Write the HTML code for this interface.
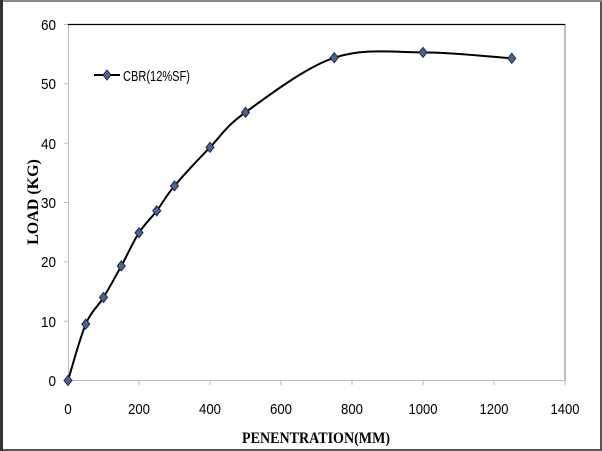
<!DOCTYPE html>
<html><head><style>
html,body{margin:0;padding:0;background:#fff;}
svg{display:block;}
</style></head><body>
<svg width="602" height="451" xmlns="http://www.w3.org/2000/svg">
<rect x="0" y="0" width="602" height="451" fill="#fff"/>
<rect x="1" y="1" width="600" height="449" fill="none" stroke="#555" stroke-width="2"/>
<rect x="0" y="0" width="602" height="2" fill="#888"/>
<rect x="0" y="0" width="3" height="451" fill="#333"/>
<line x1="68.5" y1="24" x2="68.5" y2="380" stroke="#bbb" stroke-width="1"/>
<line x1="565" y1="24" x2="565" y2="380" stroke="#aaa" stroke-width="1.5"/>
<line x1="68" y1="24.5" x2="565" y2="24.5" stroke="#000" stroke-width="1.2"/>
<line x1="68" y1="380.5" x2="565" y2="380.5" stroke="#bbb" stroke-width="1"/>
<g stroke="#bbb" stroke-width="1">
<line x1="64" y1="24.5" x2="68" y2="24.5"/><line x1="64" y1="83.8" x2="68" y2="83.8"/>
<line x1="64" y1="143.2" x2="68" y2="143.2"/><line x1="64" y1="202.5" x2="68" y2="202.5"/>
<line x1="64" y1="261.8" x2="68" y2="261.8"/><line x1="64" y1="321.2" x2="68" y2="321.2"/>
<line x1="64" y1="380.5" x2="68" y2="380.5"/>
<line x1="139" y1="380" x2="139" y2="385"/><line x1="210" y1="380" x2="210" y2="385"/>
<line x1="281" y1="380" x2="281" y2="385"/><line x1="352" y1="380" x2="352" y2="385"/>
<line x1="423" y1="380" x2="423" y2="385"/><line x1="494" y1="380" x2="494" y2="385"/>
<line x1="565" y1="380" x2="565" y2="385"/>
</g>
<g font-family="Liberation Sans, sans-serif" font-size="15" fill="#000" text-anchor="end" lengthAdjust="spacingAndGlyphs">
<text x="56" y="30" textLength="15" lengthAdjust="spacingAndGlyphs">60</text>
<text x="56" y="89" textLength="15" lengthAdjust="spacingAndGlyphs">50</text>
<text x="56" y="149" textLength="15" lengthAdjust="spacingAndGlyphs">40</text>
<text x="56" y="208" textLength="15" lengthAdjust="spacingAndGlyphs">30</text>
<text x="56" y="267" textLength="15" lengthAdjust="spacingAndGlyphs">20</text>
<text x="56" y="327" textLength="15" lengthAdjust="spacingAndGlyphs">10</text>
<text x="56" y="386" textLength="7.5" lengthAdjust="spacingAndGlyphs">0</text>
</g>
<g font-family="Liberation Sans, sans-serif" font-size="15" fill="#000" text-anchor="middle">
<text x="68" y="414" textLength="7.5" lengthAdjust="spacingAndGlyphs">0</text>
<text x="139" y="414" textLength="22" lengthAdjust="spacingAndGlyphs">200</text>
<text x="210" y="414" textLength="22" lengthAdjust="spacingAndGlyphs">400</text>
<text x="281" y="414" textLength="22" lengthAdjust="spacingAndGlyphs">600</text>
<text x="352" y="414" textLength="22" lengthAdjust="spacingAndGlyphs">800</text>
<text x="423" y="414" textLength="29" lengthAdjust="spacingAndGlyphs">1000</text>
<text x="494" y="414" textLength="29" lengthAdjust="spacingAndGlyphs">1200</text>
<text x="565" y="414" textLength="29" lengthAdjust="spacingAndGlyphs">1400</text>
</g>
<text x="316" y="443" font-family="Liberation Serif, serif" font-weight="bold" font-size="16" text-anchor="middle" textLength="148" lengthAdjust="spacingAndGlyphs">PENENTRATION(MM)</text>
<text transform="translate(38,202) rotate(-90)" font-family="Liberation Serif, serif" font-weight="bold" font-size="16" text-anchor="middle">LOAD (KG)</text>
<path id="curve" fill="none" stroke="#000" stroke-width="2"/>
<g id="marks"></g>
<line x1="94" y1="75" x2="120" y2="75" stroke="#000" stroke-width="2"/>
<path d="M107 70 L111 75 L107 80 L103 75 Z" fill="#4a6591" stroke="#1a2a44" stroke-width="1"/>
<text x="123" y="81" font-family="Liberation Sans, sans-serif" font-size="15" textLength="67" lengthAdjust="spacingAndGlyphs">CBR(12%SF)</text>
</svg>
<script>
var d=[[0,0],[50,9.5],[100,14],[150,19.3],[200,24.9],[250,28.6],[300,32.8],[400,39.3],[500,45.2],[750,54.4],[1000,55.3],[1250,54.3]];
var p=d.map(function(a){return [68+a[0]*497/1400,380.5-a[1]*356/60];});
var s="M"+p[0][0]+" "+p[0][1];
for(var i=0;i<p.length-1;i++){var p0=p[i-1]||p[i],p1=p[i],p2=p[i+1],p3=p[i+2]||p2;
var k=1/6;
s+=" C"+(p1[0]+(p2[0]-p0[0])*k)+" "+(p1[1]+(p2[1]-p0[1])*k)+" "+(p2[0]-(p3[0]-p1[0])*k)+" "+(p2[1]-(p3[1]-p1[1])*k)+" "+p2[0]+" "+p2[1];}
document.getElementById("curve").setAttribute("d",s);
var g="";p.forEach(function(q){g+='<path d="M'+q[0]+' '+(q[1]-5)+' L'+(q[0]+4)+' '+q[1]+' L'+q[0]+' '+(q[1]+5)+' L'+(q[0]-4)+' '+q[1]+' Z" fill="#4a6591" stroke="#1a2a44" stroke-width="1"/>';});
document.getElementById("marks").innerHTML=g;
</script>
</body></html>
